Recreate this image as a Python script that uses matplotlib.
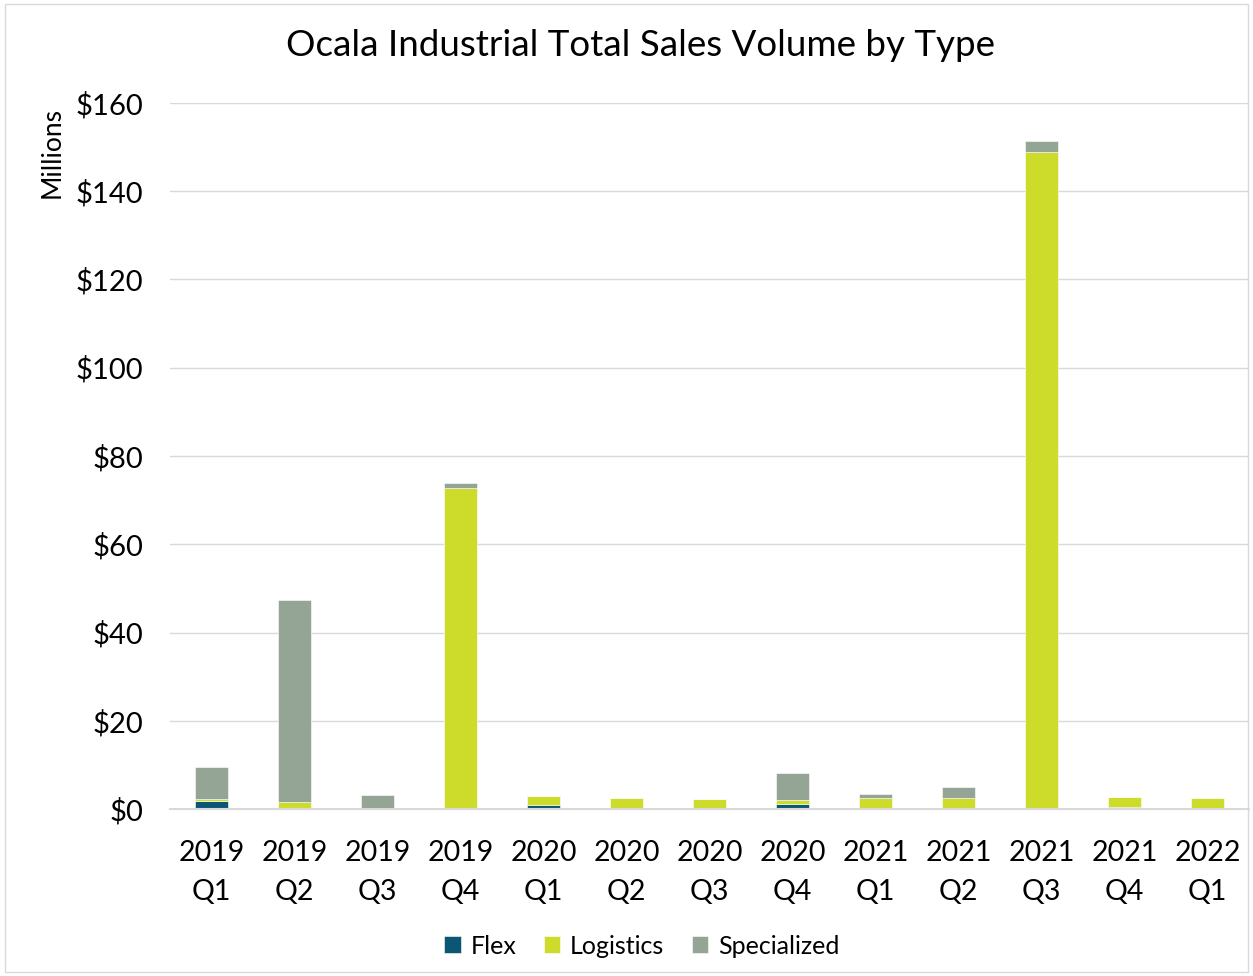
import matplotlib
matplotlib.use("Agg")
import matplotlib.pyplot as plt
import numpy as np

categories = ["2019\nQ1", "2019\nQ2", "2019\nQ3", "2019\nQ4", "2020\nQ1", "2020\nQ2", "2020\nQ3",
              "2020\nQ4", "2021\nQ1", "2021\nQ2", "2021\nQ3", "2021\nQ4", "2022\nQ1"]
flex = [1.9, 0.0, 0.0, 0.0, 0.8, 0.0, 0.0, 1.1, 0.0, 0.0, 0.0, 0.5, 0.0]
logistics = [0.4, 1.6, 0.0, 72.7, 2.1, 2.4, 2.3, 1.0, 2.4, 2.4, 148.9, 2.2, 2.4]
specialized = [7.3, 45.7, 3.2, 1.1, 0.0, 0.0, 0.0, 6.0, 0.9, 2.5, 2.6, 0.0, 0.0]
yticks = [0, 20, 40, 60, 80, 100, 120, 140, 160]

plt.rcParams['font.family'] = ['Lato', 'DejaVu Sans']

fig = plt.figure(figsize=(12.53, 9.76), dpi=100)
ax = fig.add_axes([170/1253, 1 - 809/976, (1249-170)/1253, (809-103)/976])

x = np.arange(len(categories))
flex_a = np.array(flex)
log_a = np.array(logistics)
spec_a = np.array(specialized)
w = 0.4
ax.bar(x, flex_a, w, color="#0b5672", edgecolor="white", linewidth=0.4, label="Flex")
ax.bar(x, log_a, w, bottom=flex_a, color="#cddc2b", edgecolor="white", linewidth=0.4, label="Logistics")
ax.bar(x, spec_a, w, bottom=flex_a + log_a, color="#95a595", edgecolor="white", linewidth=0.4, label="Specialized")

ax.set_xlim(-0.5, len(categories) - 0.5)
ax.set_ylim(0, 160)
ax.set_yticks(yticks)
ax.set_yticklabels([f"${v}" for v in yticks], fontsize=21)
ax.set_xticks(x)
ax.set_xticklabels(categories, fontsize=20.5, linespacing=1.65)
ax.tick_params(axis='x', length=0, pad=22)
ax.tick_params(axis='y', length=0, pad=19)
ax.yaxis.grid(True, color="#d9d9d9", linewidth=1)
ax.set_axisbelow(True)
for s in ["top", "right", "left"]:
    ax.spines[s].set_visible(False)
ax.spines["bottom"].set_color("#d9d9d9")
ax.spines["bottom"].set_linewidth(1.5)

fig.text(52/1253, 1 - 153/976, "Millions", rotation=90, fontsize=19, ha="center", va="center")
fig.text(641/1253, 1 - 46/976, "Ocala Industrial Total Sales Volume by Type", fontsize=26.5,
         ha="center", va="center")

leg = fig.legend(loc="center", bbox_to_anchor=(642/1253, 1 - 946/976), ncol=3, frameon=False,
                 fontsize=18, handlelength=0.65, handleheight=0.65, handletextpad=0.4, columnspacing=1.1)

border = plt.Rectangle((0.004, 0.004), 0.992, 0.992, transform=fig.transFigure, fill=False,
                       edgecolor="#d9d9d9", linewidth=1)
fig.patches.append(border)

fig.savefig("out.png", dpi=100)
